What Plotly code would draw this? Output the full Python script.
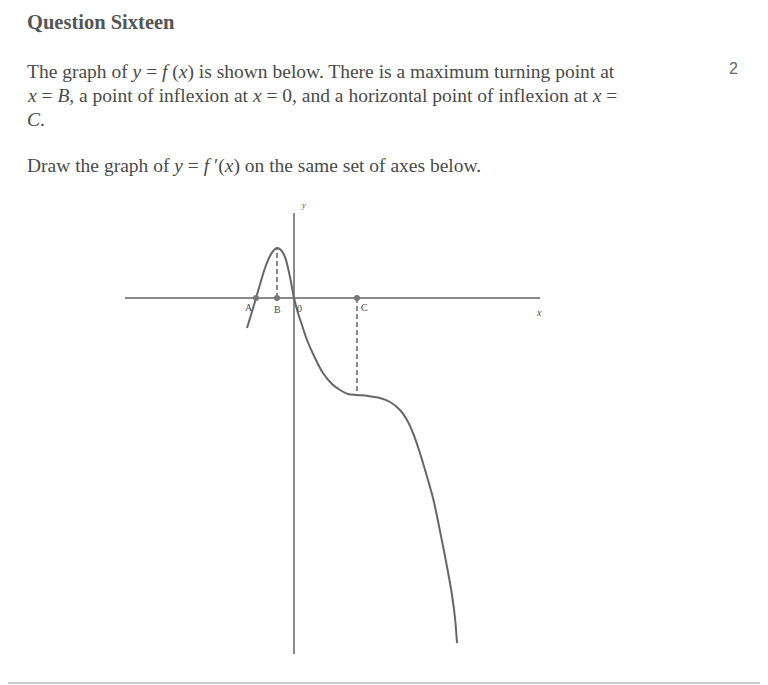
import plotly.graph_objects as go

# Curve y = f(x) (abstract units)
curve_x = [-4.7, -4.3, -3.8, -3.3, -2.9, -2.4, -2.0, -1.7, -1.3, -0.9, -0.6, -0.3, 0.0,
           0.4, 0.8, 1.3, 2.1, 2.9, 3.8, 4.6, 5.4, 6.3, 7.4, 8.6, 9.6, 10.6, 11.3, 11.9,
           12.4, 12.9, 13.4, 13.9, 14.4, 14.9, 15.4, 15.8, 16.1, 16.3]
curve_y = [-3.0, -1.7, 0.0, 1.7, 3.0, 4.2, 4.8, 5.0, 4.8, 4.1, 3.0, 1.6, 0.0,
           -1.5, -2.7, -4.2, -6.0, -7.5, -8.6, -9.2, -9.6, -9.7, -9.8, -10.0, -10.4, -11.2, -12.2, -13.5,
           -14.9, -16.5, -18.2, -20.0, -22.3, -24.8, -27.4, -29.7, -32.0, -34.5]

# Axes extents
x_axis_x = [-16.9, 24.6]
y_axis_y = [-35.6, 8.5]

# Marked points on x axis
point_names = ["A", "B", "C"]
point_x = [-3.8, -1.7, 6.3]
point_y = [0, 0, 0]

# Dashed guides: B (max turning point) and C (horizontal inflexion)
B_x, B_top = -1.7, 5.0
C_x, C_bottom = 6.3, -9.7

AX = "#8a8a8a"
CURVE = "#666666"
TXT = "#4a4a4a"

fig = go.Figure()
fig.add_trace(go.Scatter(x=x_axis_x, y=[0, 0], mode="lines", line=dict(color=AX, width=2), hoverinfo="skip"))
fig.add_trace(go.Scatter(x=[0, 0], y=y_axis_y, mode="lines", line=dict(color=AX, width=2), hoverinfo="skip"))
fig.add_trace(go.Scatter(x=[B_x, B_x], y=[0, B_top], mode="lines", line=dict(color=CURVE, width=1.5, dash="5px,3px"), hoverinfo="skip"))
fig.add_trace(go.Scatter(x=[C_x, C_x], y=[0, C_bottom], mode="lines", line=dict(color=CURVE, width=1.5, dash="5px,3px"), hoverinfo="skip"))
fig.add_trace(go.Scatter(x=curve_x, y=curve_y, mode="lines", line=dict(color=CURVE, width=2, shape="spline", smoothing=1.0), hoverinfo="skip"))
fig.add_trace(go.Scatter(x=point_x, y=point_y, mode="markers", marker=dict(color="#777777", size=6), hoverinfo="skip"))

serif = "Liberation Serif"
small = dict(family=serif, size=10, color=TXT)
fig.add_annotation(x=point_x[0], y=0, text="A", showarrow=False, xanchor="right", yanchor="top", yshift=-2, xshift=-1, font=small)
fig.add_annotation(x=point_x[1], y=0, text="B", showarrow=False, xanchor="center", yanchor="top", yshift=-4, font=small)
fig.add_annotation(x=0, y=0, text="0", showarrow=False, xanchor="left", yanchor="top", yshift=-3, xshift=1, font=small)
fig.add_annotation(x=point_x[2], y=0, text="C", showarrow=False, xanchor="left", yanchor="top", yshift=-2, xshift=2, font=small)
fig.add_annotation(x=x_axis_x[1], y=0, text="<i>x</i>", showarrow=False, xanchor="center", yanchor="top", yshift=-7, xshift=-1, font=small)
fig.add_annotation(x=0, y=y_axis_y[1], text="<i>y</i>", showarrow=False, xanchor="left", yanchor="bottom", xshift=5, yshift=1, font=dict(family=serif, size=8, color=TXT))

OFF = 8  # page body margin
W, H = 768 - OFF, 685 - OFF
def P(px, py):
    return (px - OFF) / W, 1 - (py - OFF) / H

body = dict(family=serif, size=19.5, color=TXT)
texts = [
    (25, 22, "<b>Question Sixteen</b>", dict(family=serif, size=20.5, color="#555555")),
    (25, 72, "The graph of <i>y</i> = <i>f</i> (<i>x</i>) is shown below. There is a maximum turning point at", body),
    (25, 96, "<i>x</i> = <i>B</i>, a point of inflexion at <i>x</i> = 0, and a horizontal point of inflexion at <i>x</i> =", body),
    (25, 119, "<i>C</i>.", body),
    (25, 166, "Draw the graph of <i>y</i> = <i>f</i> ′(<i>x</i>) on the same set of axes below.", body),
]
for px, py, t, f in texts:
    x, y = P(px, py)
    fig.add_annotation(xref="paper", yref="paper", x=x, y=y, text=t, showarrow=False,
                       xanchor="left", yanchor="middle", font=f)
x2, y2 = P(733, 69)
fig.add_annotation(xref="paper", yref="paper", x=x2, y=y2, text="2", showarrow=False,
                   xanchor="center", yanchor="middle", font=dict(family="Liberation Sans", size=16, color="#666666"))

# page border (right and bottom)
bx = P(765, 0)[0]
by = P(0, 683)[1]
fig.add_shape(type="line", xref="paper", yref="paper", x0=bx, x1=bx, y0=by, y1=1.0,
              line=dict(color="#cccccc", width=2), layer="above")
fig.add_shape(type="line", xref="paper", yref="paper", x0=0, x1=bx, y0=by, y1=by,
              line=dict(color="#cccccc", width=2), layer="above")

fig.update_layout(
    width=W, height=H, margin=dict(l=0, r=0, t=0, b=0),
    paper_bgcolor="white", plot_bgcolor="white", showlegend=False,
    xaxis=dict(range=[-28.6, 47.4], visible=False, fixedrange=True),
    yaxis=dict(range=[-38.7, 29.0], visible=False, fixedrange=True),
)
fig.write_html("out.html")
